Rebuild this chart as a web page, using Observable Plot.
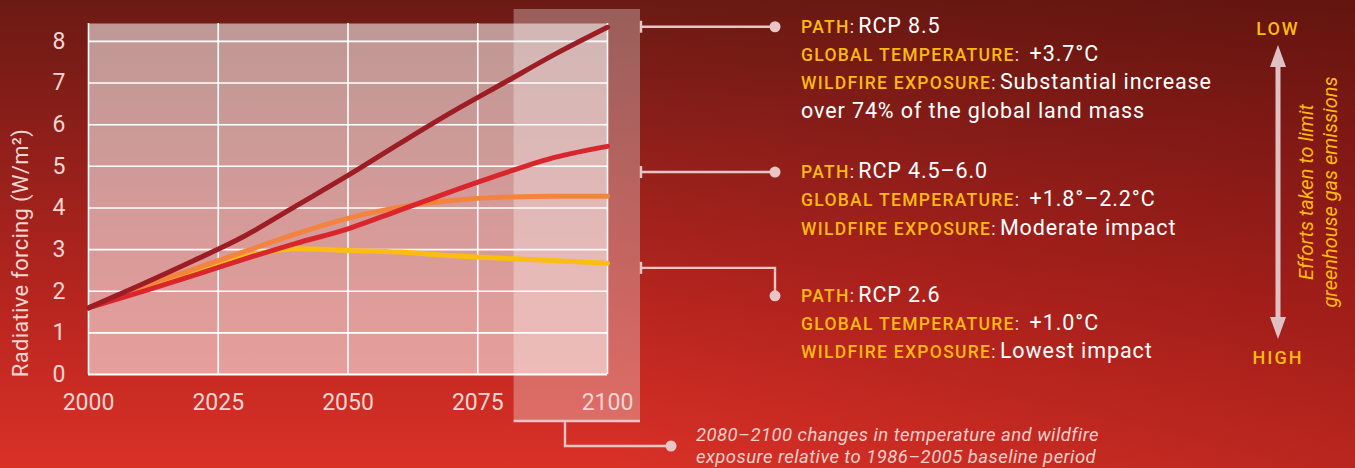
<!DOCTYPE html>
<html>
<head>
<meta charset="utf-8">
<script src="https://cdn.jsdelivr.net/npm/d3@7"></script>
<script src="https://cdn.jsdelivr.net/npm/@observablehq/plot@0.6"></script>
<style>
  html, body { margin: 0; padding: 0; }
  #wrap {
    position: relative; width: 1355px; height: 468px; overflow: hidden;
    font-family: Roboto, "Noto Sans", sans-serif;
    background:
      linear-gradient(90deg, rgba(60,0,0,0) 45%, rgba(70,0,0,0.22) 100%),
      linear-gradient(180deg, #6b1a13 0%, #8f1f1a 30%, #b8251f 65%, #da3127 100%);
  }
  #wrap svg { position: absolute; left: 0; top: 0; }
</style>
</head>
<body>
<div id="wrap"></div>
<script>
// ---- data ----
const years = [2000, 2010, 2020, 2030, 2040, 2050, 2060, 2070, 2080, 2090, 2100];
const rcp26 = [1.60, 2.05, 2.47, 2.83, 3.02, 2.98, 2.94, 2.85, 2.79, 2.73, 2.67];
const rcp45 = [1.60, 2.10, 2.52, 2.95, 3.38, 3.75, 4.02, 4.18, 4.26, 4.28, 4.28];
const rcp60 = [1.60, 1.98, 2.37, 2.77, 3.15, 3.50, 3.95, 4.40, 4.83, 5.22, 5.48];
const rcp85 = [1.60, 2.15, 2.72, 3.32, 4.05, 4.78, 5.55, 6.30, 7.00, 7.70, 8.34];
const seriesNames = ["RCP 2.6", "RCP 4.5", "RCP 6.0", "RCP 8.5"];
const seriesValues = [rcp26, rcp45, rcp60, rcp85];
const seriesColors = ["#fbbd12", "#f2843f", "#d9262d", "#9d1d25"];
const xTicks = [2000, 2025, 2050, 2075, 2100];
const yTicks = [0, 1, 2, 3, 4, 5, 6, 7, 8];
const yMax = 8.43;
const highlightYears = [2082, 2100];
const bracketValues = [8.34, 4.85, 2.55];
const yLabel = "Radiative forcing (W/m²)";
const annotations = [
  [["PATH", "RCP 8.5"], ["GLOBAL TEMPERATURE", " +3.7°C"], ["WILDFIRE EXPOSURE", "Substantial increase"], [null, "over 74% of the global land mass"]],
  [["PATH", "RCP 4.5–6.0"], ["GLOBAL TEMPERATURE", " +1.8°–2.2°C"], ["WILDFIRE EXPOSURE", "Moderate impact"]],
  [["PATH", "RCP 2.6"], ["GLOBAL TEMPERATURE", " +1.0°C"], ["WILDFIRE EXPOSURE", "Lowest impact"]]
];
const captionLines = ["2080–2100 changes in temperature and wildfire", "exposure relative to 1986–2005 baseline period"];
const sideLabels = ["LOW", "HIGH"];
const sideTitle = ["Efforts taken to limit", "greenhouse gas emissions"];

const rows = seriesNames.flatMap((name, i) =>
  years.map((yr, j) => ({series: name, year: yr, value: seriesValues[i][j]})));

const labelColor = "#f4d5d1";
const yellow = "#fcb912";
const connector = "#e9c6c5";

const chart = Plot.plot({
  width: 1355, height: 468,
  marginLeft: 88, marginRight: 748, marginTop: 23, marginBottom: 94,
  style: {background: "transparent", color: labelColor, fontFamily: "Roboto, sans-serif"},
  x: {domain: [2000, 2100]},
  y: {domain: [0, yMax]},
  color: {domain: seriesNames, range: seriesColors},
  marks: [
    Plot.frame({fill: "white", fillOpacity: 0.55, stroke: "none"}),
    Plot.rect([highlightYears], {
      x1: d => d[0], x2: d => d[1], y1: () => 0, y2: () => yMax,
      insetRight: -33, insetTop: -14, insetBottom: -47,
      fill: "white", fillOpacity: 0.3
    }),
    Plot.gridY({ticks: yTicks.filter(d => d > 0), stroke: "white", strokeOpacity: 1, strokeWidth: 1.6}),
    Plot.gridX({ticks: xTicks, stroke: "white", strokeOpacity: 1, strokeWidth: 1.6}),
    Plot.ruleY([0], {stroke: "white", strokeWidth: 2}),
    Plot.line(rows, {x: "year", y: "value", z: "series", stroke: "series",
      strokeWidth: 5, curve: "monotone-x", strokeLinecap: "round"}),
    Plot.axisY({ticks: yTicks, tickSize: 0, tickPadding: 23, fontSize: 23, label: null, tickFormat: d => String(d)}),
    Plot.axisX({ticks: xTicks, tickSize: 0, tickPadding: 19, fontSize: 23, label: null,
      tickFormat: d => String(d), letterSpacing: 0.4})
  ]
});

document.getElementById("wrap").appendChild(chart);

const X = chart.scale("x"), Y = chart.scale("y");
const sx = v => X.apply(v), sy = v => Y.apply(v);
const svg = d3.select(chart);
const g = svg.append("g").attr("text-anchor", "start");

// y axis title
g.append("text")
  .attr("transform", `translate(28,${sy(0) - 121}) rotate(-90)`)
  .attr("text-anchor", "middle").attr("fill", labelColor)
  .attr("font-size", 22).attr("letter-spacing", 0.3).attr("font-family", "Roboto, sans-serif")
  .text(yLabel);

// connectors
const hlRight = sx(highlightYears[1]) + 33;
const hlLeft = sx(highlightYears[0]);
const hlBottom = sy(0) + 47;
const dotX = 775;
const textX = 801;
const lineGap = 28.3;
const dotYs = bracketValues.map((v, i) => i === 2 ? sy(v) + 28 : sy(v));
bracketValues.forEach((v, i) => {
  const yy = sy(v);
  g.append("line").attr("x1", hlRight + 1).attr("x2", hlRight + 1).attr("y1", yy - 6).attr("y2", yy + 6)
    .attr("stroke", connector).attr("stroke-width", 2.4);
  const path = i === 2
    ? `M${hlRight},${yy}H${dotX}V${dotYs[i]}`
    : `M${hlRight},${yy}H${dotX}`;
  g.append("path").attr("d", path).attr("fill", "none").attr("stroke", connector).attr("stroke-width", 2.4);
  g.append("circle").attr("cx", dotX).attr("cy", dotYs[i]).attr("r", 5.5).attr("fill", connector);
});

// annotation blocks
annotations.forEach((block, i) => {
  const base = dotYs[i] + 6;
  block.forEach(([lab, val], k) => {
    const t = g.append("text").attr("x", textX).attr("y", base + k * lineGap)
      .attr("text-anchor", "start").attr("font-family", "Roboto, sans-serif");
    if (lab) {
      t.append("tspan").attr("fill", yellow).attr("font-size", 17.5).attr("font-weight", 500)
        .attr("letter-spacing", 1.3).text(lab);
      t.append("tspan").attr("fill", "#f6e2df").attr("font-size", 17.5).text(": ");
    }
    t.append("tspan").attr("fill", "#ffffff").attr("font-size", 21.5).attr("letter-spacing", 0.9).text(val);
  });
});

// bottom bracket for highlight + caption
g.append("line").attr("x1", hlLeft).attr("x2", hlRight).attr("y1", hlBottom).attr("y2", hlBottom)
  .attr("stroke", connector).attr("stroke-width", 2.4);
g.append("path").attr("d", `M565,${hlBottom}V446H671`).attr("fill", "none")
  .attr("stroke", connector).attr("stroke-width", 2.4);
g.append("circle").attr("cx", 671).attr("cy", 446).attr("r", 5.5).attr("fill", connector);
captionLines.forEach((s, i) => {
  g.append("text").attr("x", 696).attr("y", 441 + i * 22).attr("text-anchor", "start")
    .attr("fill", "#f3cdc8").attr("font-size", 18.5).attr("font-style", "italic")
    .attr("letter-spacing", 0.45).attr("font-family", "Roboto, sans-serif").text(s);
});

// right side arrow
const ax = 1278, aTop = 45, aBot = 339;
const arrowColor = "#dfc0c3";
g.append("line").attr("x1", ax).attr("x2", ax).attr("y1", aTop + 18).attr("y2", aBot - 18)
  .attr("stroke", arrowColor).attr("stroke-width", 5);
g.append("path").attr("d", `M${ax},${aTop}L${ax + 8},${aTop + 22}L${ax - 8},${aTop + 22}Z`).attr("fill", arrowColor);
g.append("path").attr("d", `M${ax},${aBot}L${ax + 8},${aBot - 22}L${ax - 8},${aBot - 22}Z`).attr("fill", arrowColor);
[[sideLabels[0], 34.5], [sideLabels[1], 363.5]].forEach(([s, yy]) => {
  g.append("text").attr("x", ax).attr("y", yy).attr("text-anchor", "middle")
    .attr("fill", yellow).attr("font-size", 18).attr("font-weight", 500).attr("letter-spacing", 2)
    .attr("font-family", "Roboto, sans-serif").text(s);
});
sideTitle.forEach((s, i) => {
  g.append("text").attr("transform", `translate(${1313 + i * 24},192) rotate(-90)`)
    .attr("text-anchor", "middle").attr("fill", yellow).attr("font-size", 20)
    .attr("font-style", "italic").attr("font-family", "Roboto, sans-serif").text(s);
});
</script>
</body>
</html>
